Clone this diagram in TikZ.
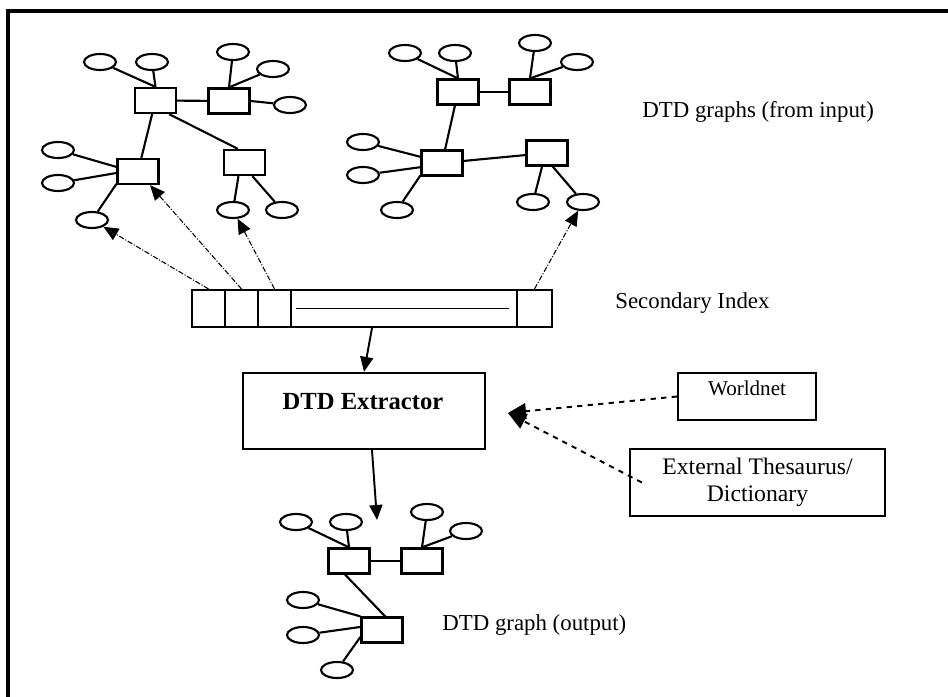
\documentclass[tikz,border=0pt]{standalone}
\usepackage{fontspec}
\setmainfont{Liberation Serif}
\usetikzlibrary{shapes,arrows,arrows.meta}

\begin{document}
\begin{tikzpicture}[scale=1.0000]
	\tikzstyle{every node}=[scale=1.0000]
	\tikzstyle{elem}=[draw, line width=1.3pt, rectangle, minimum width=0.8200cm, minimum height=0.5000cm, inner sep=0pt]
	\tikzstyle{attr}=[draw, line width=1.2pt, ellipse, minimum width=0.6400cm, minimum height=0.3200cm, inner sep=0pt]
	\tikzstyle{edge}=[line width=1.2pt]
	\tikzstyle{cell}=[draw, line width=1.2pt, rectangle, minimum height=0.7400cm, inner sep=0pt]
	\tikzstyle{lookup}=[line width=0.6pt, densely dashdotted, -{Triangle[length=0.3000cm,width=0.2600cm]}]
	\tikzstyle{flow}=[line width=1.1pt, -{Triangle[length=0.3000cm,width=0.2600cm]}]
	\tikzstyle{hint}=[line width=1.1pt, dashed, -{Triangle[length=0.3600cm,width=0.3200cm]}]
	\tikzstyle{caption}=[font=\fontsize{13}{15}\selectfont, anchor=west, inner sep=0pt]
	
	%%Created by hand
	\useasboundingbox (0.0000,0.0000) rectangle (18.9600,-13.9400);
	\draw [line width=2.0pt] (0.1600,-0.2200) rectangle (19.5000,-14.5000);
	
	%% input graph 1
	\node [elem] (g1a) at (3.1100,-2.0100) {};
	\node [elem] (g1b) at (4.5800,-2.0200) {};
	\node [elem] (g1c) at (2.7600,-3.4300) {};
	\node [elem] (g1d) at (4.8900,-3.2500) {};
	\node [attr] (g1e1) at (2.0000,-1.2400) {};
	\node [attr] (g1e2) at (3.0400,-1.2400) {};
	\node [attr] (g1e3) at (4.6600,-1.0400) {};
	\node [attr] (g1e4) at (5.4600,-1.3800) {};
	\node [attr] (g1e5) at (5.8000,-2.1000) {};
	\node [attr] (g1e6) at (1.1600,-3.0000) {};
	\node [attr] (g1e7) at (1.1600,-3.6600) {};
	\node [attr] (g1e8) at (1.8400,-4.4000) {};
	\node [attr] (g1e9) at (4.6600,-4.2000) {};
	\node [attr] (g1e10) at (5.6400,-4.2000) {};
	\draw [edge] (g1e1) -- (g1a.north);
	\draw [edge] (g1e2) -- (g1a.north);
	\draw [edge] (g1e3) -- (g1b.north);
	\draw [edge] (g1e4) -- (g1b.north);
	\draw [edge] (g1e5) -- (g1b.east);
	\draw [edge] (g1a) -- (g1b);
	\draw [edge] (g1a) -- (g1c);
	\draw [edge] (g1a.-45) -- (g1d.116);
	\draw [edge] (g1e6) -- (g1c.168);
	\draw [edge] (g1e7) -- (g1c.184);
	\draw [edge] (g1e8) -- (g1c.210);
	\draw [edge] (g1e9) -- (g1d.246);
	\draw [edge] (g1e10) -- (g1d.300);
	
	%% input graph 2
	\node [elem] (g2a) at (9.1600,-1.8400) {};
	\node [elem] (g2b) at (10.6000,-1.8400) {};
	\node [elem] (g2c) at (8.8400,-3.2600) {};
	\node [elem] (g2d) at (10.9400,-3.0600) {};
	\node [attr] (g2e1) at (8.1000,-1.0600) {};
	\node [attr] (g2e2) at (9.1000,-1.0600) {};
	\node [attr] (g2e3) at (10.7000,-0.8600) {};
	\node [attr] (g2e4) at (11.5400,-1.2400) {};
	\node [attr] (g2e5) at (7.2600,-2.8400) {};
	\node [attr] (g2e6) at (7.2600,-3.5000) {};
	\node [attr] (g2e7) at (7.9400,-4.2000) {};
	\node [attr] (g2e8) at (10.6600,-4.0400) {};
	\node [attr] (g2e9) at (11.6600,-4.0400) {};
	\draw [edge] (g2e1) -- (g2a.north);
	\draw [edge] (g2e2) -- (g2a.north);
	\draw [edge] (g2e3) -- (g2b.north);
	\draw [edge] (g2e4) -- (g2b.north);
	\draw [edge] (g2a) -- (g2b);
	\draw [edge] (g2a) -- (g2c);
	\draw [edge] (g2c) -- (g2d);
	\draw [edge] (g2e5) -- (g2c.164);
	\draw [edge] (g2e6) -- (g2c.191);
	\draw [edge] (g2e7) -- (g2c.210);
	\draw [edge] (g2e8) -- (g2d.250);
	\draw [edge] (g2e9) -- (g2d.293);
	
	\node [caption] (lblin) at (12.8400,-2.2400) {DTD graphs (from input)};
	
	%% secondary index
	\node [cell, minimum width=0.6600cm] (idx1) at (4.1700,-6.1700) {};
	\node [cell, minimum width=0.6600cm] (idx2) at (4.8300,-6.1700) {};
	\node [cell, minimum width=0.6600cm] (idx3) at (5.4900,-6.1700) {};
	\node [cell, minimum width=4.5200cm] (idxm) at (8.0800,-6.1700) {};
	\node [cell, minimum width=0.7000cm] (idx5) at (10.6900,-6.1700) {};
	\draw [line width=0.6pt] ([xshift=0.1200cm]idxm.west) -- ([xshift=-0.1800cm]idxm.east);
	\node [caption] (lblidx) at (12.3000,-6.0600) {Secondary Index};
	
	\draw [lookup] (idx1.north) -- (g1e8);
	\draw [lookup] (idx2.north) -- (g1c);
	\draw [lookup] (idx3.north) -- (g1e9);
	\draw [lookup] (idx5.north) -- (g2e9);
	
	%% extractor and sources
	\node [draw, line width=1.3pt, minimum width=4.8400cm, minimum height=1.5200cm] (ext) at (7.2800,-8.2200) {};
	\node [font=\fontsize{14}{16}\selectfont\bfseries] (extlbl) at (7.2600,-8.0400) {DTD Extractor};
	\node [draw, line width=1.3pt, minimum width=2.7600cm, minimum height=0.9400cm] (wn) at (14.9400,-7.9300) {};
	\node [font=\fontsize{12}{14}\selectfont] (wnlbl) at (14.9400,-7.7600) {Worldnet};
	\node [draw, line width=1.3pt, minimum width=5.1000cm, minimum height=1.3400cm, align=center, font=\fontsize{13.5}{15}\selectfont] (thes) at (15.1500,-9.6500) {External Thesaurus/\\Dictionary};
	\coordinate (hintpt) at (10.1600,-8.2600);
	\coordinate (outpt) at (7.5400,-10.4000);
	
	\draw [flow] ([xshift=-0.6400cm]idxm.south) -- (ext.north);
	\draw [flow] ([xshift=0.1600cm]ext.south) -- (outpt);
	\draw [hint] (wn.west) -- (hintpt);
	\draw [hint] ([xshift=0.2600cm]thes.west) -- (hintpt);
	
	%% output graph
	\node [elem] (g3a) at (6.9800,-11.2200) {};
	\node [elem] (g3b) at (8.4400,-11.2200) {};
	\node [elem] (g3c) at (7.6400,-12.6000) {};
	\node [attr] (g3e1) at (5.9200,-10.4400) {};
	\node [attr] (g3e2) at (6.9200,-10.4400) {};
	\node [attr] (g3e3) at (8.5400,-10.2400) {};
	\node [attr] (g3e4) at (9.3200,-10.6200) {};
	\node [attr] (g3e5) at (6.0600,-12.0000) {};
	\node [attr] (g3e6) at (6.0600,-12.7000) {};
	\node [attr] (g3e7) at (6.7400,-13.4000) {};
	\draw [edge] (g3e1) -- (g3a.north);
	\draw [edge] (g3e2) -- (g3a.north);
	\draw [edge] (g3e3) -- (g3b.north);
	\draw [edge] (g3e4) -- (g3b.north);
	\draw [edge] (g3a) -- (g3b);
	\draw [edge] (g3a.254) -- (g3c.77);
	\draw [edge] (g3e5) -- (g3c.north west);
	\draw [edge] (g3e6) -- (g3c.172);
	\draw [edge] (g3e7) -- (g3c.198);
	
	\node [caption] (lblout) at (8.8400,-12.5000) {DTD graph (output)};

\end{tikzpicture}
\end{document}
